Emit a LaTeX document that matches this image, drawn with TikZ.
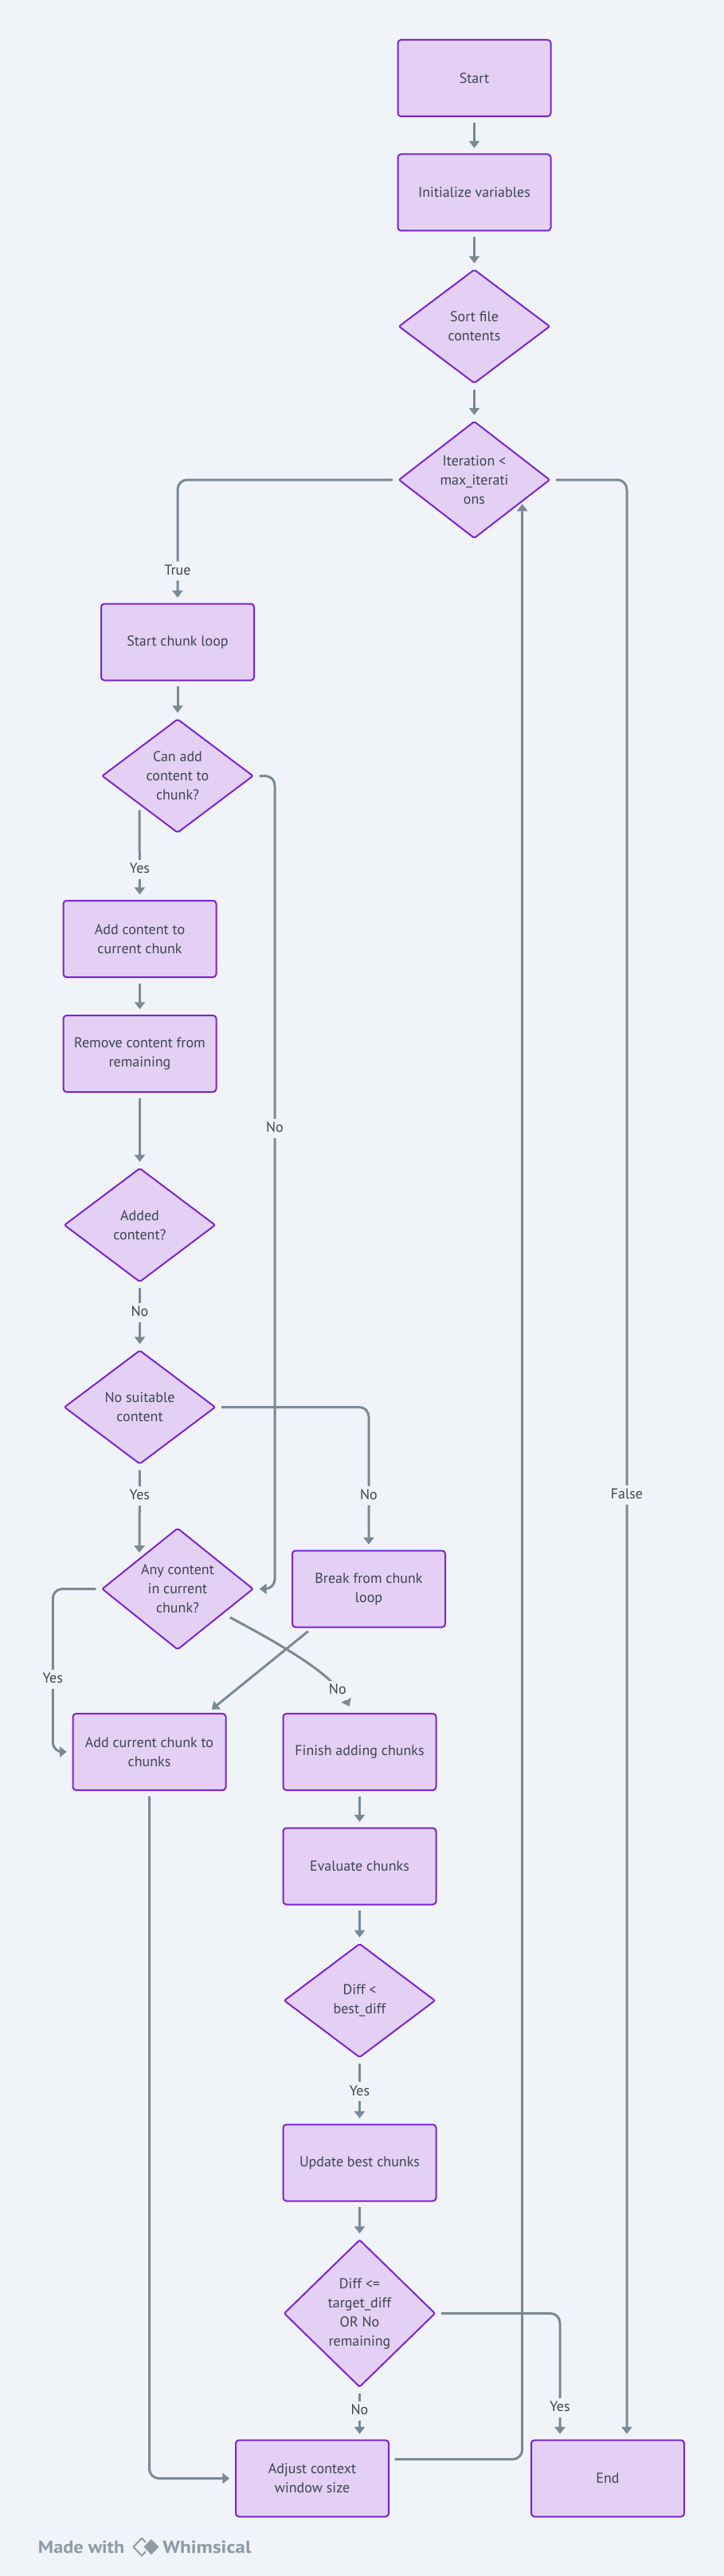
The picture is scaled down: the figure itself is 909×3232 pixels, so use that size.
\documentclass[tikz,border=0pt]{standalone}
\usepackage{fontspec}
\setmainfont{PT Sans}
\usetikzlibrary{shapes.geometric,arrows.meta,calc}
\definecolor{bg}{HTML}{F0F4F8}
\definecolor{boxfill}{HTML}{E4D0F4}
\definecolor{boxline}{HTML}{7B24D4}
\definecolor{arrowc}{HTML}{7B8996}
\definecolor{txt}{HTML}{3E4452}
\definecolor{foot}{HTML}{8E9AA6}
\begin{document}
\begin{tikzpicture}[x=0.75pt,y=-0.75pt,
  every node/.style={font=\fontsize{13.5pt}{18pt}\selectfont, text=txt, align=center},
  proc/.style={draw=boxline, fill=boxfill, line width=1.5pt, rounded corners=3pt,
    minimum width=144pt, minimum height=72pt, inner sep=0pt},
  dec/.style={diamond, draw=boxline, fill=boxfill, line width=1.5pt, rounded corners=1.5pt,
    minimum width=142.5pt, minimum height=107.25pt, inner sep=0pt},
  arr/.style={draw=arrowc, line width=2.25pt, -{Triangle[width=9.75pt,length=6.75pt]},
    shorten <=5pt, shorten >=5pt},
  conn/.style={arr, rounded corners=9pt},
  lbl/.style={fill=bg, inner xsep=2pt, inner ysep=3pt, text height=9.5pt, text depth=2.5pt},
  foottxt/.style={font=\fontsize{16.5pt}{18pt}\selectfont\bfseries, text=foot, inner sep=0pt, anchor=base west}
]
\useasboundingbox (0,0) rectangle (909,3232);
\fill[bg] (0,0) rectangle (909,3232);

% nodes
\node[proc] (start) at (595.5,98) {Start};
\node[proc] (init) at (595.5,241.5) {Initialize variables};
\node[dec] (sort) at (595.5,409.5) {Sort file\\contents};
\node[dec] (iter) at (595.5,602) {Iteration <\\max\_iterati\\ons};
\node[proc] (loop) at (223,805.6) {Start chunk loop};
\node[dec] (canadd) at (223,973.5) {Can add\\content to\\chunk?};
\node[proc] (addc) at (175.5,1178) {Add content to\\current chunk};
\node[proc] (remove) at (175.5,1322) {Remove content from\\remaining};
\node[dec] (added) at (175.5,1537) {Added\\content?};
\node[dec] (nosuit) at (175.5,1765.5) {No suitable\\content};
\node[dec] (anyc) at (223,1993.5) {Any content\\in current\\chunk?};
\node[proc] (brk) at (463,1993.5) {Break from chunk\\loop};
\node[proc] (addcur) at (187.5,2198) {Add current chunk to\\chunks};
\node[proc] (finish) at (451.5,2198) {Finish adding chunks};
\node[proc] (eval) at (451.5,2341.5) {Evaluate chunks};
\node[dec] (diff) at (451.5,2510) {Diff <\\best\_diff};
\node[proc] (upd) at (451.5,2713.5) {Update best chunks};
\node[dec, minimum height=138.75pt] (diffle) at (451.5,2902.5) {Diff <=\\target\_diff\\OR No\\remaining};
\node[proc] (adj) at (392,3109.5) {Adjust context\\window size};
\node[proc] (end) at (763,3109.5) {End};
\coordinate (ret) at ($(iter.center)+(60.2,23.6)$);

% connectors
\draw[arr] (start) -- (init);
\draw[arr] (init) -- (sort);
\draw[arr] (sort) -- (iter);
\draw[conn] (iter.west) -| (loop.north) node[lbl,pos=0.87]{True};
\draw[conn] (iter.east) -| ($(end.north)+(24,0)$) node[lbl,pos=0.759]{False};
\draw[arr] (loop) -- (canadd);
\draw[arr] (canadd.south west) -- (addc.north) node[lbl,pos=0.68]{Yes};
\draw[arr] (addc) -- (remove);
\draw[arr] (remove) -- (added);
\draw[arr] (added) -- (nosuit) node[lbl,pos=0.45]{No};
\draw[arr] (nosuit.south) -- (anyc.north west) node[lbl,pos=0.33]{Yes};
\draw[conn] (nosuit.east) -| (brk.north) node[lbl,pos=0.81]{No};
\draw[conn] (canadd.east) -- ++(26,0) |- (anyc.east) node[lbl,pos=0.217]{No};
\draw[conn] (anyc.west) -- ++(-60.7,0) |- (addcur.west) node[lbl,pos=0.277]{Yes};
\draw[arr] ([xshift=19.5pt]brk.south west) -- ([xshift=-18pt]addcur.north east);
\draw[arr] ($(anyc.south east)+(12,-6)$) .. controls ($(anyc.south east)+(87,34)$) and ($(finish.north)+(-32,-47)$) .. ($(finish.north)+(-10,-2)$) node[lbl,pos=0.8]{No};
\draw[conn] (addcur.south) |- (adj.west);
\draw[arr] (finish) -- (eval);
\draw[arr] (eval) -- (diff);
\draw[arr] (diff) -- (upd) node[lbl,pos=0.51]{Yes};
\draw[arr] (upd) -- (diffle);
\draw[arr] (diffle.south) -- (diffle.south |- adj.north) node[lbl,pos=0.45]{No};
\draw[conn] (diffle.east) -| ($(end.north)+(-60,0)$) node[lbl,pos=0.875]{Yes};
\draw[conn] ($(adj.east)+(0,-24)$) -| (ret);

% footer
\node[foottxt] (made) at (47.7,3203) {\scalebox{1.1}[1]{Made with}};
\draw[foot, line width=1.5pt, line join=round] (178,3184.5) -- (188.5,3195.5) -- (178,3206.5) -- (167.5,3195.5) -- cycle;
\draw[fill=foot, draw=bg, line width=1.5pt, line join=round] (190,3184) -- (201,3195.5) -- (190,3207) -- (179,3195.5) -- cycle;
\node[foottxt] (whim) at (204,3203) {\scalebox{1.15}[1]{Whimsical}};
\end{tikzpicture}
\end{document}
